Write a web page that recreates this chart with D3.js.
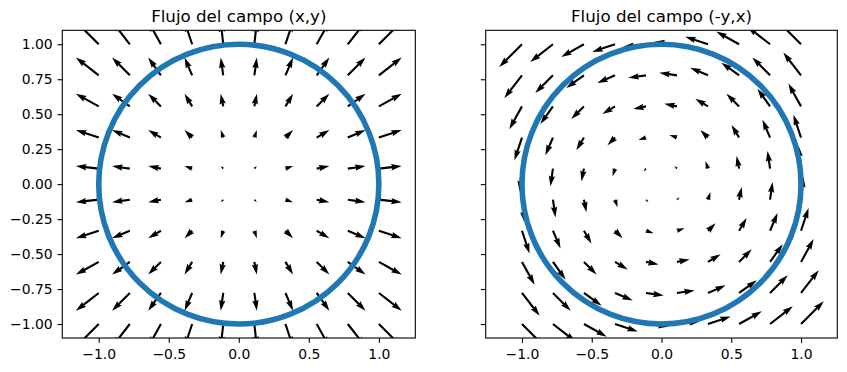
<!DOCTYPE html>
<html>
<head>
<meta charset="utf-8">
<title>Flujo del campo</title>
<script src="https://d3js.org/d3.v7.min.js"></script>
<style>
  body { margin: 0; background: #fff; }
  text { font-family: "DejaVu Sans", sans-serif; fill: #000; }
</style>
</head>
<body>
<div id="chart"></div>
<script>
// grid of arrow tails (same on both axes)
const gridX = [-1, -0.778, -0.556, -0.333, -0.111, 0.111, 0.333, 0.556, 0.778, 1];
const gridY = [-1, -0.778, -0.556, -0.333, -0.111, 0.111, 0.333, 0.556, 0.778, 1];
const xTicks = [-1, -0.5, 0, 0.5, 1];
const yTicks = [-1, -0.75, -0.5, -0.25, 0, 0.25, 0.5, 0.75, 1];
const titles = ["Flujo del campo (x,y)", "Flujo del campo (-y,x)"];
const circleRadius = [1];
const xLim = [-1.26, 1.26];
const yLim = [-1.1, 1.1];

// the two vector fields
const fields = [
  (x, y) => [x, y],
  (x, y) => [-y, x]
];

const width = 847, height = 372;
const panels = [
  { left: 62.3, right: 415.3, showY: true },
  { left: 485.7, right: 837.3, showY: false }
];
const axTop = 30.3, axBottom = 338;

const svg = d3.select("#chart").append("svg")
  .attr("width", width)
  .attr("height", height);

// quiver style (matplotlib defaults)
const shaft = 2.12;          // shaft width in px
const headW = 3, headL = 5, headAL = 4.5;
const arrowScale = 0.163;    // data units per unit of magnitude

function arrowPath(x0, y0, x1, y1) {
  const dx = x1 - x0, dy = y1 - y0;
  const len = Math.hypot(dx, dy);
  const L = len / shaft;
  let pts;
  if (L < 1) {
    pts = d3.range(6).map(i => [0.5 * Math.cos(i * Math.PI / 3), 0.5 * Math.sin(i * Math.PI / 3)]);
  } else if (L < headL) {
    const s = L / headL;
    pts = [[0, 0.5], [0.5, 0.5], [0, 1.5], [5, 0], [0, -1.5], [0.5, -0.5], [0, -0.5]]
      .map(p => [p[0] * s, p[1] * s]);
  } else {
    pts = [[0, 0.5], [L - headAL, 0.5], [L - headL, headW / 2], [L, 0],
           [L - headL, -headW / 2], [L - headAL, -0.5], [0, -0.5]];
  }
  const c = len ? dx / len : 1, s = len ? dy / len : 0;
  return "M" + pts.map(p => {
    const px = p[0] * shaft, py = p[1] * shaft;
    return [x0 + px * c - py * s, y0 + px * s + py * c].join(",");
  }).join("L") + "Z";
}

panels.forEach((p, k) => {
  const x = d3.scaleLinear().domain(xLim).range([p.left, p.right]);
  const y = d3.scaleLinear().domain(yLim).range([axBottom, axTop]);
  const g = svg.append("g");

  g.append("clipPath").attr("id", "clip" + k)
    .append("rect")
    .attr("x", p.left).attr("y", axTop)
    .attr("width", p.right - p.left).attr("height", axBottom - axTop);

  const pts = [];
  gridY.forEach(gy => gridX.forEach(gx => {
    const [u, v] = fields[k](gx, gy);
    pts.push({ gx, gy, u, v });
  }));

  g.append("g").attr("clip-path", `url(#clip${k})`)
    .selectAll("path")
    .data(pts)
    .enter()
    .append("path")
    .attr("d", d => arrowPath(x(d.gx), y(d.gy),
      x(d.gx + d.u * arrowScale), y(d.gy + d.v * arrowScale)))
    .attr("fill", "#000");

  g.append("g").attr("clip-path", `url(#clip${k})`)
    .selectAll("ellipse")
    .data(circleRadius)
    .enter()
    .append("ellipse")
    .attr("cx", x(0)).attr("cy", y(0))
    .attr("rx", r => x(r) - x(0))
    .attr("ry", r => y(0) - y(r))
    .attr("fill", "none")
    .attr("stroke", "#1f77b4")
    .attr("stroke-width", 5.56);

  // axes
  const xAxis = g.append("g")
    .attr("transform", `translate(0,${axBottom})`)
    .call(d3.axisBottom(x).tickValues(xTicks).tickFormat(d3.format(".1f"))
      .tickSize(4.86).tickPadding(6.3));
  const yAxis = g.append("g")
    .attr("transform", `translate(${p.left},0)`)
    .call(d3.axisLeft(y).tickValues(yTicks).tickFormat(d3.format(".2f"))
      .tickSize(4.86).tickPadding(4.86));
  [xAxis, yAxis].forEach(a => {
    a.select(".domain").remove();
    a.selectAll("line").attr("stroke", "#000").attr("stroke-width", 1.1);
    a.selectAll("text").attr("font-size", 13.9)
      .attr("font-family", "DejaVu Sans, sans-serif").attr("fill", "#000");
  });
  if (!p.showY) yAxis.selectAll("text").remove();

  g.append("rect")
    .attr("x", p.left).attr("y", axTop)
    .attr("width", p.right - p.left).attr("height", axBottom - axTop)
    .attr("fill", "none").attr("stroke", "#000").attr("stroke-width", 1.1);

  g.append("text")
    .attr("x", (p.left + p.right) / 2)
    .attr("y", 21.5)
    .attr("text-anchor", "middle")
    .attr("font-size", 16.67)
    .text(titles[k]);
});
</script>
</body>
</html>
